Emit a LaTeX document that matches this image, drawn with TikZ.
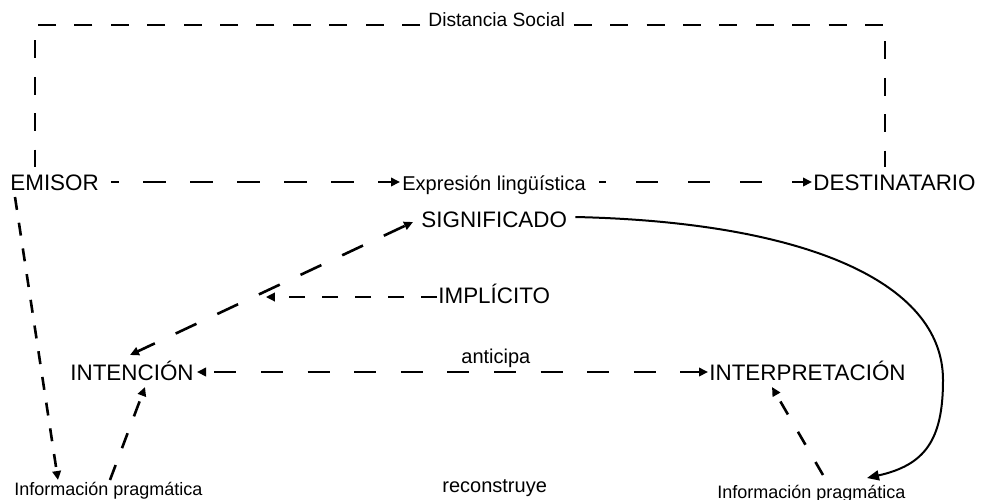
\documentclass[tikz,border=0pt]{standalone}
\usepackage{fontspec}
\setmainfont{Liberation Sans}
\usetikzlibrary{arrows.meta,calc}
\begin{document}
\begin{tikzpicture}[x=0.5pt,y=-0.5pt,
  big/.style={inner sep=0pt,anchor=base west,font=\fontsize{11.2}{13}\selectfont},
  med/.style={inner sep=0pt,anchor=base west,font=\fontsize{10}{12}\selectfont},
  sml/.style={inner sep=0pt,anchor=base west,font=\fontsize{9}{11}\selectfont},
  conn/.style={line width=1.3pt},
  social/.style={line width=1pt,dash pattern=on 9pt off 9.2pt},
  tipend/.style={-{Triangle[length=4.5pt,width=4.2pt]}},
  tipboth/.style={{Triangle[length=4.5pt,width=4.2pt]}-{Triangle[length=4.5pt,width=4.2pt]}},
]
\useasboundingbox (0,0) rectangle (984,499);

% labels
\node[med,font=\fontsize{9.6}{11}\selectfont] (dist) at (428,26) {Distancia Social};
\node[big] (emisor) at (10,190) {EMISOR};
\node[med] (expr) at (402,190) {Expresión lingüística};
\node[big] (dest) at (813,190) {DESTINATARIO};
\node[big] (sig) at (421,227) {SIGNIFICADO};
\node[big] (impl) at (438,303) {IMPLÍCITO};
\node[big] (inten) at (70,380) {INTENCIÓN};
\node[big] (interp) at (709,380) {INTERPRETACIÓN};
\node[med] (antic) at (461,363) {anticipa};
\node[med] (recon) at (442,492) {reconstruye};
\node[sml] (infoL) at (14,495) {Información pragmática};
\node[sml] (infoR) at (717,498) {Información pragmática};

% social distance frame
\draw[social] ([shift={(-8,-1)}]dist.base west) -| ([shift={(25,-23)}]emisor.base west);
\draw[social,dash phase=15pt] ([shift={(2,-1)}]dist.base east) -| ([shift={(72,-23)}]dest.base west);

% communication line
\draw[conn,tipend,dash pattern=on 11.5pt off 12pt,dash phase=7.5pt]
  ([shift={(12,-8)}]emisor.base east) -- ([shift={(-2,-8)}]expr.base west);
\draw[conn,tipend,dash pattern=on 11pt off 15pt,dash phase=7.5pt]
  ([shift={(13,-8)}]expr.base east) -- ([shift={(-1,-8)}]dest.base west);

% intention <-> meaning, with the implicature feeding into it
\draw[conn,tipboth,dash pattern=on 11.5pt off 11.5pt,dash phase=2pt]
  ([shift={(60,-25)}]inten.base west) -- coordinate[pos=0.48] (meet)
  ([shift={(-8,-5)}]sig.base west);
\coordinate (implS) at ([shift={(-1,-6)}]impl.base west);
\draw[conn,tipend,dash pattern=on 8pt off 8.5pt] (implS) -- (implS -| meet);

% anticipation
\draw[conn,tipboth,dash pattern=on 11pt off 12.3pt,dash phase=18.8pt]
  ([shift={(3,-8)}]inten.base east) -- ([shift={(-1,-8)}]interp.base west);

% pragmatic information
\draw[conn,tipend,dash pattern=on 6.5pt off 6.5pt]
  ([shift={(5,7)}]emisor.base west) -- ([shift={(44,-15)}]infoL.base west);
\draw[conn,tipend,dash pattern=on 8pt off 9pt]
  ([shift={(96,-15)}]infoL.base west) -- ([shift={(75,7)}]inten.base west);
\draw[conn,tipend,dash pattern=on 7.5pt off 10pt]
  ([shift={(106,-23)}]infoR.base west) -- ([shift={(63,7)}]interp.base west);

% meaning carried over to the addressee's pragmatic information
\draw[line width=1pt,-{Triangle[length=6pt,width=5pt]}]
  ([shift={(8,-10)}]sig.base east) .. controls (800,222) and (943,280) .. (943,380)
  .. controls (943,440) and (925,465) .. ([shift={(150,-20)}]infoR.base west);
\end{tikzpicture}
\end{document}
